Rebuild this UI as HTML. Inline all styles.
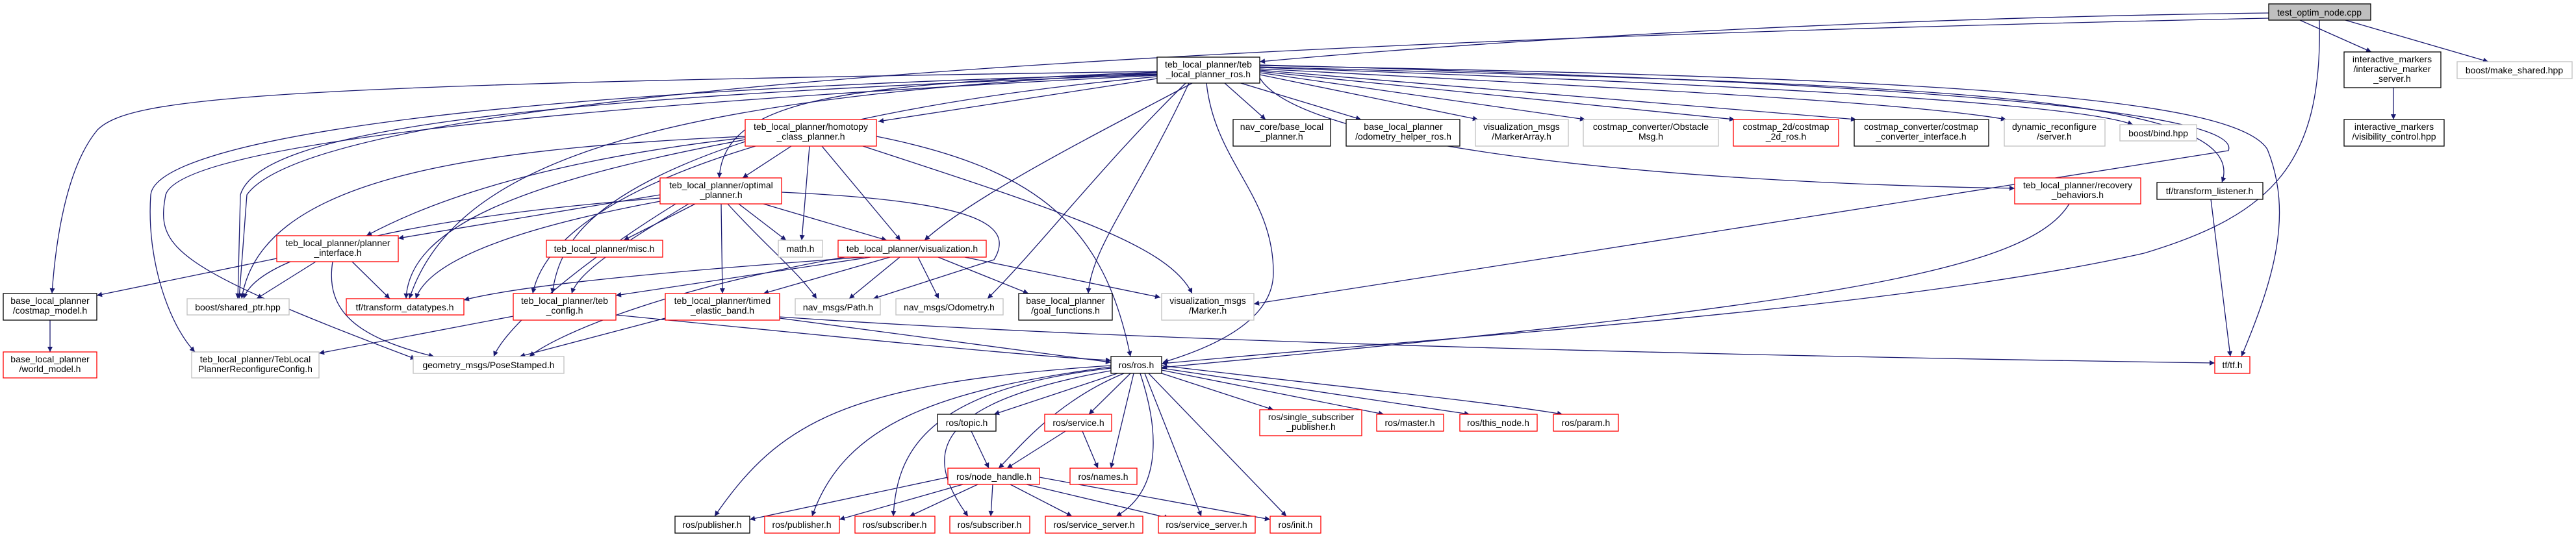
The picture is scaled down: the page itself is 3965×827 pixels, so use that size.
<!DOCTYPE html>
<html><head><meta charset="utf-8"><style>
html,body{margin:0;padding:0;background:#fff;}
svg{display:block;}
text{font-family:"Liberation Sans",sans-serif;font-size:14px;fill:#000;text-anchor:middle;}
.e{fill:none;stroke:#191970;stroke-width:1.3;marker-end:url(#a);}
.b{fill:#fff;stroke:#000;stroke-width:1.3;}
.r{fill:#fff;stroke:#ff0000;stroke-width:1.3;}
.g{fill:#fff;stroke:#bfbfbf;stroke-width:1.3;}
</style></head><body>
<svg width="3965" height="827" viewBox="0 0 3965 827" xmlns="http://www.w3.org/2000/svg">
<defs><marker id="a" viewBox="0 0 10 10" refX="10" refY="5" markerWidth="10" markerHeight="8" markerUnits="userSpaceOnUse" orient="auto"><path d="M0,0 L10,5 L0,10 z" fill="#191970"/></marker></defs>
<g>
<!-- test_optim -->
<path class="e" d="M3492 20 C2700 30 2100 80 1939 95"/>
<path class="e" d="M3540 31 L3650 80"/>
<path class="e" d="M3610 31 L3830 95"/>
<path class="e" d="M3570 31 C3575 250 3500 330 3300 390 C2900 480 2200 520 1788 560"/>
<path class="e" d="M3492 28 C2000 60 500 130 380 300 L368 460"/>
<!-- teb_ros -->
<path class="e" d="M1885 128 L1948 184"/>
<path class="e" d="M1900 125 L2095 184"/>
<path class="e" d="M1939 115 L2275 184"/>
<path class="e" d="M1939 112 L2440 184"/>
<path class="e" d="M1939 110 L2670 184"/>
<path class="e" d="M1939 108 L2857 184"/>
<path class="e" d="M1939 106 C2600 140 2950 160 3088 184"/>
<path class="e" d="M1939 104 C2700 130 3200 160 3283 192"/>
<path class="e" d="M1939 120 C2000 220 2500 280 3101 290"/>
<path class="e" d="M1939 103 C2900 130 3470 140 3420 281"/>
<path class="e" d="M1939 101 C3000 120 3440 150 3490 230 C3530 330 3500 430 3450 549"/>
<path class="e" d="M1939 100 C3080 130 3450 180 3430 232 C3300 250 2500 380 1930 468"/>
<path class="e" d="M1781 121 L1352 187"/>
<path class="e" d="M1781 111 C1300 130 1115 150 1107 274"/>
<path class="e" d="M1835 128 C1700 200 1500 300 1423 370"/>
<path class="e" d="M1857 128 C1870 250 1960 300 1960 420 C1960 500 1850 540 1790 558"/>
<path class="e" d="M1830 128 C1750 300 1680 380 1675 452"/>
<path class="e" d="M1825 128 C1700 250 1600 380 1520 460"/>
<path class="e" d="M1781 110 C400 130 200 150 150 200 C100 260 85 380 80 452"/>
<path class="e" d="M1781 115 C800 150 400 200 370 300 L366 460"/>
<path class="e" d="M1781 112 C1000 150 700 250 630 460"/>
<path class="e" d="M1781 118 C1200 170 850 300 820 452"/>
<path class="e" d="M1781 116 C900 160 280 220 255 300 C240 380 260 410 640 553"/>
<path class="e" d="M1781 114 C700 140 240 220 232 300 C225 400 260 500 300 542"/>
<!-- homotopy -->
<path class="e" d="M1218 225 L1143 274"/>
<path class="e" d="M1246 225 L1234 370"/>
<path class="e" d="M1265 225 L1386 370"/>
<path class="e" d="M1328 225 C1650 330 1800 380 1835 452"/>
<path class="e" d="M1349 210 C1600 260 1700 350 1740 549"/>
<path class="e" d="M1147 212 C900 240 700 290 564 363"/>
<path class="e" d="M1147 210 C700 230 400 280 372 460"/>
<path class="e" d="M1147 215 C800 280 630 350 625 460"/>
<path class="e" d="M1147 218 C900 300 860 380 850 452"/>
<!-- optimal -->
<path class="e" d="M1016 300 L613 367"/>
<path class="e" d="M1070 314 L960 370"/>
<path class="e" d="M1137 314 L1210 370"/>
<path class="e" d="M1175 314 L1365 370"/>
<path class="e" d="M1110 314 L1112 452"/>
<path class="e" d="M1120 314 C1180 380 1230 420 1257 460"/>
<path class="e" d="M1203 296 C1520 310 1560 350 1530 400 L1344 460"/>
<path class="e" d="M1060 314 C950 380 890 420 880 452"/>
<path class="e" d="M1016 310 C800 350 660 400 640 460"/>
<path class="e" d="M1016 305 C700 330 400 380 375 460"/>
<path class="e" d="M1040 314 C900 400 780 500 760 549"/>
<!-- vis -->
<path class="e" d="M1330 396 C1000 420 800 440 714 462"/>
<path class="e" d="M1340 396 L948 455"/>
<path class="e" d="M1370 396 L1175 452"/>
<path class="e" d="M1385 396 L1307 460"/>
<path class="e" d="M1413 396 L1445 460"/>
<path class="e" d="M1444 396 L1583 452"/>
<path class="e" d="M1485 396 L1786 458"/>
<path class="e" d="M1300 396 C1000 450 850 520 815 549"/>
<!-- planner iface -->
<path class="e" d="M426 398 L149 455"/>
<path class="e" d="M486 403 L395 460"/>
<path class="e" d="M542 403 L600 460"/>
<path class="e" d="M512 403 C500 480 550 520 668 549"/>
<path class="e" d="M77 493 L77 542"/>
<path class="e" d="M790 487 L491 544"/>
<path class="e" d="M948 485 C1300 520 1600 550 1710 555"/>
<path class="e" d="M1024 490 L800 549"/>
<path class="e" d="M1200 490 L1710 558"/>
<path class="e" d="M1200 488 C1800 530 2800 550 3409 559"/>
<path class="e" d="M3185 314 C3120 420 2800 470 1788 566"/>
<path class="e" d="M3403 307 L3433 549"/>
<path class="e" d="M3684 135 L3684 184"/>
<!-- ros.h -->
<path class="e" d="M1710 563 C1300 590 1200 650 1100 795"/>
<path class="e" d="M1710 565 C1450 600 1300 650 1250 795"/>
<path class="e" d="M1710 567 C1420 600 1380 700 1375 795"/>
<path class="e" d="M1715 570 C1430 620 1420 700 1490 795"/>
<path class="e" d="M1720 575 L1530 638"/>
<path class="e" d="M1730 575 C1620 620 1560 700 1537 721"/>
<path class="e" d="M1740 575 L1676 638"/>
<path class="e" d="M1745 575 L1710 721"/>
<path class="e" d="M1755 575 C1790 680 1780 760 1718 795"/>
<path class="e" d="M1762 575 L1849 795"/>
<path class="e" d="M1768 575 L1980 795"/>
<path class="e" d="M1788 575 L1960 631"/>
<path class="e" d="M1788 570 L2130 638"/>
<path class="e" d="M1788 567 L2262 638"/>
<path class="e" d="M1788 563 C2100 600 2300 620 2405 638"/>
<path class="e" d="M1495 664 L1522 721"/>
<path class="e" d="M1640 664 L1550 721"/>
<path class="e" d="M1666 664 L1690 721"/>
<path class="e" d="M1459 735 L1154 800"/>
<path class="e" d="M1482 746 L1292 800"/>
<path class="e" d="M1505 746 L1400 795"/>
<path class="e" d="M1528 746 L1525 795"/>
<path class="e" d="M1555 746 L1650 795"/>
<path class="e" d="M1580 746 L1800 798"/>
<path class="e" d="M1600 735 L1955 800"/>
</g>
<g>
<rect x="3492" y="6" width="157" height="25" fill="#bfbfbf" stroke="#000" stroke-width="1.3"/><text x="3570" y="24">test_optim_node.cpp</text>
<rect class="b" x="1781" y="88" width="158" height="40"/><text x="1860" y="104">teb_local_planner/teb</text><text x="1860" y="119">_local_planner_ros.h</text>
<rect class="b" x="3608" y="80" width="149" height="55"/><text x="3682" y="96">interactive_markers</text><text x="3682" y="111">/interactive_marker</text><text x="3682" y="126">_server.h</text>
<rect class="g" x="3782" y="95" width="177" height="26"/><text x="3870" y="113">boost/make_shared.hpp</text>
<rect class="b" x="3608" y="184" width="154" height="41"/><text x="3685" y="200">interactive_markers</text><text x="3685" y="215">/visibility_control.hpp</text>
<rect class="r" x="1147" y="184" width="202" height="41"/><text x="1248" y="200">teb_local_planner/homotopy</text><text x="1248" y="215">_class_planner.h</text>
<rect class="b" x="1898" y="184" width="150" height="41"/><text x="1973" y="200">nav_core/base_local</text><text x="1973" y="215">_planner.h</text>
<rect class="b" x="2072" y="184" width="175" height="41"/><text x="2160" y="200">base_local_planner</text><text x="2160" y="215">/odometry_helper_ros.h</text>
<rect class="g" x="2271" y="184" width="143" height="41"/><text x="2342" y="200">visualization_msgs</text><text x="2342" y="215">/MarkerArray.h</text>
<rect class="g" x="2437" y="184" width="208" height="41"/><text x="2541" y="200">costmap_converter/Obstacle</text><text x="2541" y="215">Msg.h</text>
<rect class="r" x="2668" y="184" width="162" height="41"/><text x="2749" y="200">costmap_2d/costmap</text><text x="2749" y="215">_2d_ros.h</text>
<rect class="b" x="2854" y="184" width="207" height="41"/><text x="2957" y="200">costmap_converter/costmap</text><text x="2957" y="215">_converter_interface.h</text>
<rect class="g" x="3085" y="184" width="155" height="41"/><text x="3162" y="200">dynamic_reconfigure</text><text x="3162" y="215">/server.h</text>
<rect class="g" x="3263" y="192" width="118" height="25"/><text x="3322" y="210">boost/bind.hpp</text>
<rect class="r" x="1016" y="274" width="187" height="40"/><text x="1110" y="290">teb_local_planner/optimal</text><text x="1110" y="305">_planner.h</text>
<rect class="r" x="3101" y="274" width="194" height="40"/><text x="3198" y="290">teb_local_planner/recovery</text><text x="3198" y="305">_behaviors.h</text>
<rect class="b" x="3320" y="281" width="163" height="26"/><text x="3401" y="299">tf/transform_listener.h</text>
<rect class="r" x="426" y="363" width="187" height="40"/><text x="520" y="379">teb_local_planner/planner</text><text x="520" y="394">_interface.h</text>
<rect class="r" x="841" y="370" width="179" height="26"/><text x="930" y="388">teb_local_planner/misc.h</text>
<rect class="g" x="1198" y="370" width="68" height="26"/><text x="1232" y="388">math.h</text>
<rect class="r" x="1290" y="370" width="228" height="26"/><text x="1404" y="388">teb_local_planner/visualization.h</text>
<rect class="b" x="5" y="452" width="144" height="41"/><text x="77" y="468">base_local_planner</text><text x="77" y="483">/costmap_model.h</text>
<rect class="g" x="288" y="460" width="157" height="25"/><text x="366" y="478">boost/shared_ptr.hpp</text>
<rect class="r" x="533" y="460" width="181" height="25"/><text x="623" y="478">tf/transform_datatypes.h</text>
<rect class="r" x="790" y="452" width="158" height="41"/><text x="869" y="468">teb_local_planner/teb</text><text x="869" y="483">_config.h</text>
<rect class="r" x="1024" y="452" width="176" height="41"/><text x="1112" y="468">teb_local_planner/timed</text><text x="1112" y="483">_elastic_band.h</text>
<rect class="g" x="1224" y="460" width="131" height="25"/><text x="1290" y="478">nav_msgs/Path.h</text>
<rect class="g" x="1379" y="460" width="165" height="25"/><text x="1461" y="478">nav_msgs/Odometry.h</text>
<rect class="b" x="1568" y="452" width="144" height="41"/><text x="1640" y="468">base_local_planner</text><text x="1640" y="483">/goal_functions.h</text>
<rect class="g" x="1788" y="452" width="142" height="41"/><text x="1859" y="468">visualization_msgs</text><text x="1859" y="483">/Marker.h</text>
<rect class="r" x="5" y="542" width="144" height="40"/><text x="77" y="558">base_local_planner</text><text x="77" y="573">/world_model.h</text>
<rect class="g" x="295" y="542" width="196" height="40"/><text x="393" y="558">teb_local_planner/TebLocal</text><text x="393" y="573">PlannerReconfigureConfig.h</text>
<rect class="g" x="636" y="549" width="232" height="26"/><text x="752" y="567">geometry_msgs/PoseStamped.h</text>
<rect class="b" x="1710" y="549" width="78" height="26"/><text x="1749" y="567">ros/ros.h</text>
<rect class="r" x="3409" y="549" width="54" height="26"/><text x="3436" y="567">tf/tf.h</text>
<rect class="b" x="1443" y="638" width="90" height="26"/><text x="1488" y="656">ros/topic.h</text>
<rect class="r" x="1608" y="638" width="103" height="26"/><text x="1660" y="656">ros/service.h</text>
<rect class="r" x="1939" y="631" width="157" height="40"/><text x="2018" y="647">ros/single_subscriber</text><text x="2018" y="662">_publisher.h</text>
<rect class="r" x="2119" y="638" width="103" height="26"/><text x="2170" y="656">ros/master.h</text>
<rect class="r" x="2247" y="638" width="119" height="26"/><text x="2306" y="656">ros/this_node.h</text>
<rect class="r" x="2391" y="638" width="100" height="26"/><text x="2441" y="656">ros/param.h</text>
<rect class="r" x="1459" y="721" width="141" height="25"/><text x="1530" y="739">ros/node_handle.h</text>
<rect class="r" x="1647" y="721" width="103" height="25"/><text x="1698" y="739">ros/names.h</text>
<rect class="b" x="1039" y="795" width="115" height="26"/><text x="1096" y="813">ros/publisher.h</text>
<rect class="r" x="1177" y="795" width="115" height="26"/><text x="1234" y="813">ros/publisher.h</text>
<rect class="r" x="1316" y="795" width="123" height="26"/><text x="1377" y="813">ros/subscriber.h</text>
<rect class="r" x="1462" y="795" width="123" height="26"/><text x="1523" y="813">ros/subscriber.h</text>
<rect class="r" x="1609" y="795" width="150" height="26"/><text x="1684" y="813">ros/service_server.h</text>
<rect class="r" x="1783" y="795" width="149" height="26"/><text x="1857" y="813">ros/service_server.h</text>
<rect class="r" x="1955" y="795" width="78" height="26"/><text x="1994" y="813">ros/init.h</text>
</g>
</svg>
</body></html>
